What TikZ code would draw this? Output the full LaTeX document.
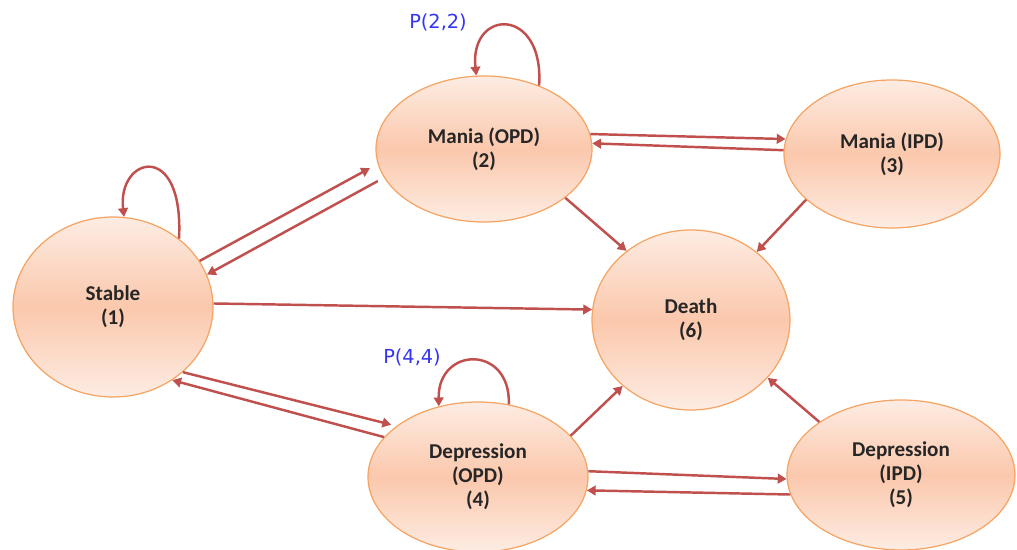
\documentclass[tikz,border=0pt]{standalone}
\usepackage{fontspec}
\setmainfont{Carlito}
\newfontfamily\labelfont{DejaVu Sans}
\usetikzlibrary{arrows.meta,shapes.geometric}
\definecolor{rim}{HTML}{F5A463}
\definecolor{peach}{HTML}{FBC8AC}
\definecolor{pale}{HTML}{FDECE3}
\definecolor{flow}{HTML}{C0504D}
\definecolor{prob}{HTML}{3535F5}
\tikzset{
  state/.style={ellipse,draw=rim,line width=0.7pt,top color=pale,bottom color=pale,
    middle color=peach,align=center,inner sep=0pt,text=black!85,
    font=\fontsize{12}{13.6}\selectfont\bfseries},
  farr/.style={-{Triangle[length=5pt,width=5.5pt]},line width=1.4pt,draw=flow},
  plab/.style={text=prob,font=\labelfont\fontsize{11}{13}\selectfont}
}
\begin{document}
\begin{tikzpicture}
  \useasboundingbox (0,0) rectangle (20.34,11);
  \node[state,minimum width=4cm,minimum height=3.6cm] (s) at (2.26,4.86) {Stable\\(1)};
  \node[state,minimum width=4.32cm,minimum height=2.92cm] (m) at (9.68,8.02) {Mania (OPD)\\(2)};
  \node[state,minimum width=4.32cm,minimum height=2.96cm] (mi) at (17.84,7.92) {Mania (IPD)\\(3)};
  \node[state,minimum width=3.96cm,minimum height=3.6cm] (d) at (13.82,4.60) {Death\\(6)};
  \node[state,minimum width=4.4cm,minimum height=3cm] (p) at (9.56,1.46) {Depression\\(OPD)\\(4)};
  \node[state,minimum width=4.56cm,minimum height=3cm] (pi) at (18.02,1.50) {Depression\\(IPD)\\(5)};
  \node[plab] (l22) at (8.76,10.56) {P(2,2)};
  \node[plab] (l44) at (8.24,3.86) {P(4,4)};
  \draw[farr] (s.46) .. controls +(0.1,2.0) and +(-0.14,1.2) .. (s.83);
  \draw[farr] (m.49) .. controls +(0.1,1.6) and +(-0.14,1.34) .. (m.96);
  \draw[farr] (p.67) .. controls +(0.04,1.2) and +(-0.02,1.2) .. (p.119);
  \draw[farr,shorten >=5pt] (s.28) -- (m.188);
  \draw[farr,shorten <=4pt] (m.196) -- (s.19);
  \draw[farr] (s.2) -- (d.174);
  \draw[farr,shorten >=3pt] (s.-43) -- (p.148);
  \draw[farr] (p.157) -- (s.-51);
  \draw[farr] (m.8) -- (mi.172);
  \draw[farr] (mi.178) -- (m.3);
  \draw[farr] (m.-31) -- (d.133);
  \draw[farr] (mi.208) -- (d.46);
  \draw[farr] (p.24) -- (d.224);
  \draw[farr] (pi.147) -- (d.-37);
  \draw[farr] (p.3) -- (pi.182);
  \draw[farr] (pi.190) -- (p.-7);
\end{tikzpicture}
\end{document}
